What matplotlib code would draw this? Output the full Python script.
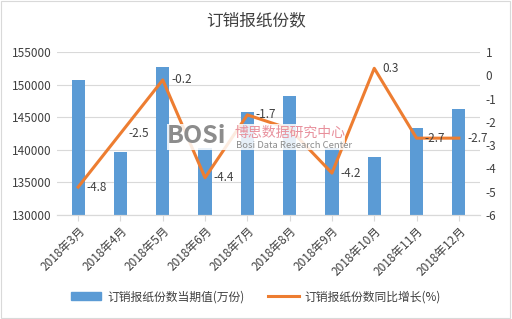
import matplotlib
matplotlib.use("Agg")
import matplotlib.pyplot as plt
from matplotlib.patches import Patch, Rectangle
from matplotlib.lines import Line2D
import numpy as np

plt.rcParams["font.family"] = ["Noto Sans CJK SC", "DejaVu Sans"]
plt.rcParams["axes.unicode_minus"] = False

# ---------- data ----------
months = ["2018年3月", "2018年4月", "2018年5月", "2018年6月", "2018年7月",
          "2018年8月", "2018年9月", "2018年10月", "2018年11月", "2018年12月"]
current = [150700, 139600, 152700, 140300, 145800, 148300, 140200, 138900, 143400, 146200]
yoy = [-4.8, -2.5, -0.2, -4.4, -1.7, -2.3, -4.2, 0.3, -2.7, -2.7]
yoy_labels = ["-4.8", "-2.5", "-0.2", "-4.4", "-1.7", "", "-4.2", "0.3", "-2.7", "-2.7"]

BAR = "#5B9BD5"
LINE = "#ED7D31"
TXT = "#404040"

fig = plt.figure(figsize=(5.12, 3.19), dpi=100)
ax = fig.add_axes([57/512, 1 - 215/319, (480-57)/512, (215-52)/319])
ax2 = ax.twinx()

x = np.arange(len(months))
ax.bar(x, current, width=0.31, color=BAR, zorder=2)
ax.set_ylim(130000, 155000)
ax.set_yticks(np.arange(130000, 155001, 5000))
ax.set_xlim(-0.5, len(months) - 0.5)
ax.grid(axis="y", color="#d9d9d9", linewidth=0.8, zorder=0)
ax.set_axisbelow(True)

ax2.plot(x, yoy, color=LINE, linewidth=2.2, zorder=3)
ax2.set_ylim(-6, 1)
ax2.set_yticks(np.arange(-6, 2, 1))
for xi, v, lab in zip(x, yoy, yoy_labels):
    if lab:
        ax2.annotate(lab, (xi, v), xytext=(6, 0), textcoords="offset points",
                     ha="left", va="center", fontsize=8.5, color=TXT, zorder=4)

for a in (ax, ax2):
    for s in ("top", "left", "right"):
        a.spines[s].set_visible(False)
    a.spines["bottom"].set_color("#d9d9d9")
    a.tick_params(axis="y", length=0, labelsize=8.5, labelcolor=TXT, pad=4)

ax.set_xticks(x)
ax.set_xticklabels(months, rotation=45, ha="right", rotation_mode="anchor",
                   fontsize=8.5, color=TXT)
ax.tick_params(axis="x", length=4, color="#d9d9d9", pad=3)

fig.text(0.5, 0.935, "订销报纸份数", ha="center", va="center", fontsize=12, color=TXT)

# watermark: its own small axes on top, semi-opaque white background
wm = fig.add_axes([167/512, 1 - 150/319, 178/512, 26/319], zorder=10)
wm.set_facecolor((1, 1, 1, 0.85))
wm.set_xticks([])
wm.set_yticks([])
for s in wm.spines.values():
    s.set_visible(False)
wm.text(0.0, 0.55, "BOSi", transform=wm.transAxes, fontsize=18,
        fontweight="bold", color="#8c8c8c", ha="left", va="center")
wm.text(0.38, 0.65, "博思数据研究中心", transform=wm.transAxes,
        fontsize=10, color="#e8909c", ha="left", va="center")
wm.text(0.385, 0.17, "Bosi Data Research Center", transform=wm.transAxes,
        fontsize=6.8, color="#8c8c8c", ha="left", va="center")

# legend
handles = [Patch(color=BAR), Line2D([0], [0], color=LINE, linewidth=2.2)]
fig.legend(handles, ["订销报纸份数当期值(万份)", "订销报纸份数同比增长(%)"],
           loc="center", bbox_to_anchor=(0.5, 0.07), ncol=2, frameon=False,
           fontsize=8.5, labelcolor=TXT, handlelength=2.6, handleheight=0.6,
           handletextpad=0.5, columnspacing=2.0)

fig.add_artist(Rectangle((0.002, 0.003), 0.995, 0.994, transform=fig.transFigure,
                         fill=False, edgecolor="#d9d9d9", linewidth=0.8))

fig.savefig("out.png", dpi=100)
